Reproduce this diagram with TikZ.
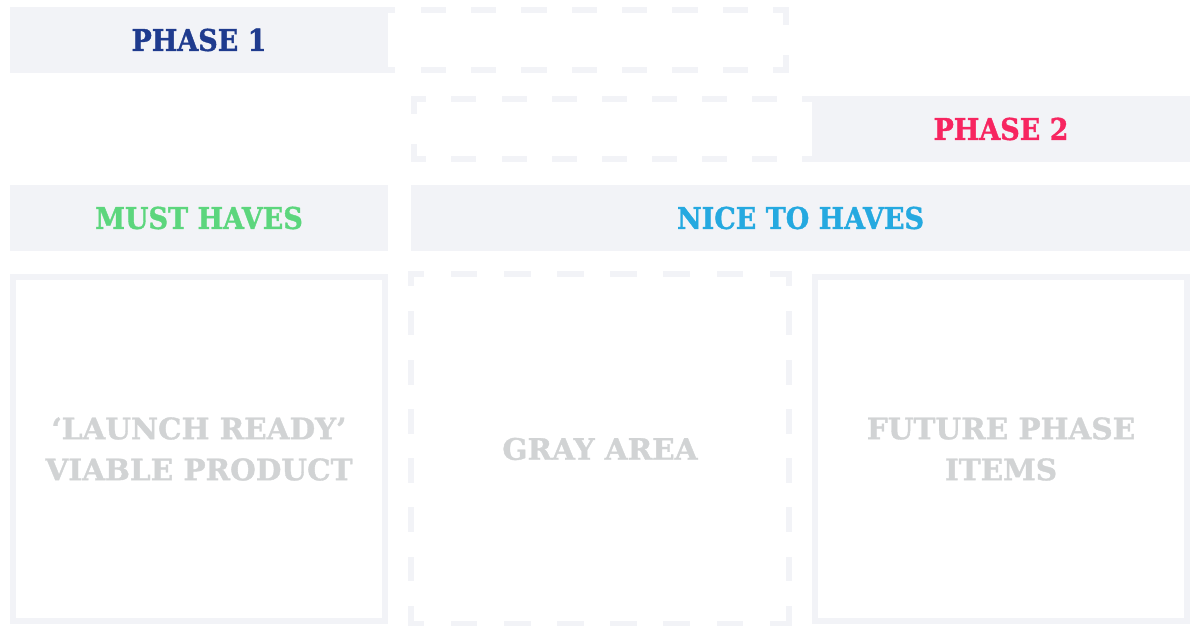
\documentclass[tikz,border=0pt]{standalone}
\usepackage{fontspec}
\setmainfont{DejaVu Serif Condensed}[BoldFont={DejaVu Serif Condensed Bold}, BoldFeatures={FakeBold=1.2}]
\newfontfamily\widefont{DejaVu Serif Bold}[FakeBold=1.2]
\usetikzlibrary{positioning}
\definecolor{panel}{HTML}{F2F3F7}
\definecolor{phaseblue}{HTML}{1F3B8E}
\definecolor{phasepink}{HTML}{F72560}
\definecolor{mustgreen}{HTML}{5CD67D}
\definecolor{niceblue}{HTML}{25A9E0}
\definecolor{itemgray}{HTML}{D1D3D4}

\begin{document}
\begin{tikzpicture}[x=1pt, y=-1pt,
    bigtext/.style={font=\bfseries\fontsize{30}{41}\selectfont, align=center},
    header/.style={rectangle, fill=panel, inner sep=0pt, minimum height=66pt, bigtext},
    frame/.style={rectangle, draw=panel, line width=6pt, inner sep=0pt, minimum width=372pt, minimum height=344pt, align=center,
        font=\widefont\fontsize{29.5}{41}\selectfont, text=itemgray},
    gapline/.style n args={3}{draw=panel, line width=6pt, line cap=rect, dash pattern=on #1pt off #2pt, dash phase=#3pt}]
    \useasboundingbox (0,0) rectangle (1200,626);
    % Phase rows
    \node[inner sep=0pt, minimum width=403pt, minimum height=60pt] (gap1) at (584.5,40) {};
    \node[inner sep=0pt, minimum width=401pt, minimum height=60pt] (gap2) at (614.5,129) {};
    \node[header, minimum width=378pt, text=phaseblue] (phase1) at (199,40) {PHASE 1};
    \node[header, minimum width=378pt, text=phasepink] (phase2) at (1001,129) {PHASE 2};
    % Column headers
    \node[header, minimum width=378pt, text=mustgreen] (must) at (199,218) {MUST HAVES};
    \node[header, minimum width=779pt, text=niceblue] (nice) at (800.5,218) {NICE TO HAVES};
    % Item boxes
    \node[frame] (launch) at (199,449) {‘LAUNCH READY’\\VIABLE PRODUCT};
    \node[frame, draw=none] (gray) at (600,449) {GRAY AREA};
    \node[frame] (future) at (1001,449) {FUTURE PHASE\\ITEMS};
    % Dashed outlines
    \draw[gapline={19.19}{31.19}{9.6}] (gap1.north west) -- (gap1.north east) (gap1.south west) -- (gap1.south east);
    \draw[gapline={24}{36}{12}] (gap1.north west) -- (gap1.south west) (gap1.north east) -- (gap1.south east);
    \draw[gapline={19.06}{31.06}{9.53}] (gap2.north west) -- (gap2.north east) (gap2.south west) -- (gap2.south east);
    \draw[gapline={24}{36}{12}] (gap2.north west) -- (gap2.south west) (gap2.north east) -- (gap2.south east);
    \draw[gapline={20.57}{32.57}{10.29}] (gray.north west) -- (gray.north east) (gray.south west) -- (gray.south east);
    \draw[gapline={18.57}{30.57}{9.29}] (gray.north west) -- (gray.south west) (gray.north east) -- (gray.south east);
\end{tikzpicture}
\end{document}
